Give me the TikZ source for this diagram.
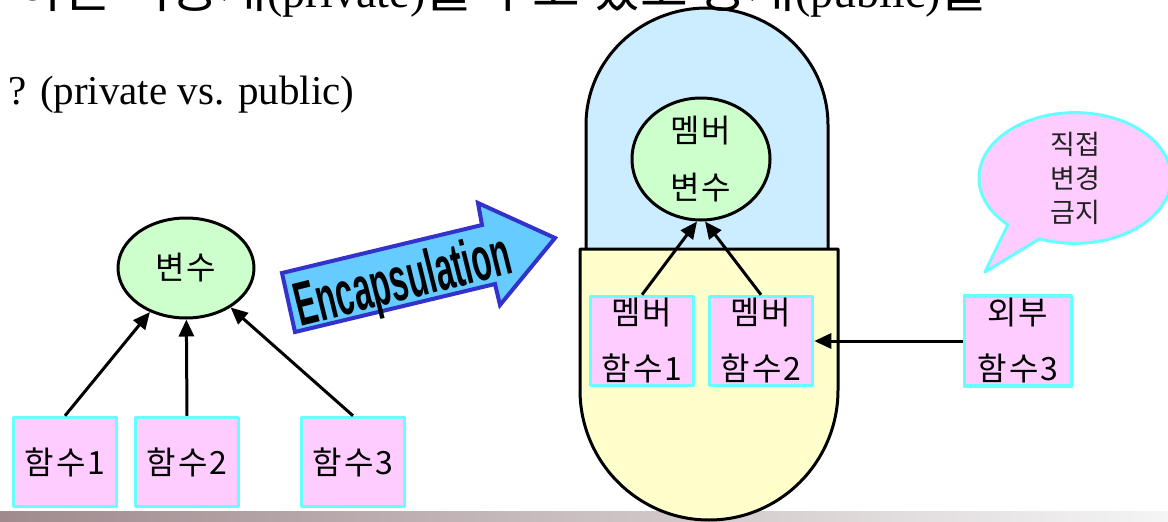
\documentclass[tikz,border=0pt]{standalone}
\usepackage{fontspec}
\setmainfont{Liberation Serif}
\newfontfamily\krfont{Noto Sans CJK KR}
\newfontfamily\krwide{Noto Sans CJK KR}[LetterSpace=6]
\newfontfamily\capfont{Liberation Sans}[FakeStretch=0.52]
\usetikzlibrary{arrows.meta,calc,positioning,shapes.geometric}
\definecolor{capPink}{HTML}{FFCCFF}
\definecolor{capCyan}{HTML}{66FFFF}
\definecolor{capGreen}{HTML}{CCFFCC}
\definecolor{capBlue}{HTML}{CCECFF}
\definecolor{capYellow}{HTML}{FFFFCC}
\definecolor{capSky}{HTML}{66CCFF}
\definecolor{capNavy}{HTML}{3333CC}
\definecolor{capMauve}{HTML}{A08A8E}
\definecolor{capFog}{HTML}{DCD4D5}
\definecolor{capInk}{HTML}{222222}

\begin{document}
\begin{tikzpicture}[x=1pt,y=-1pt,>=Latex,line cap=round,line join=round]
\path[use as bounding box,fill=white] (0,0) rectangle (1168,522); \clip (0,0) rectangle (1168,522);
\tikzset{fnbox/.style={draw=capCyan,fill=capPink,line width=3.5pt,minimum width=103pt,minimum height=89pt,inner sep=0pt,align=center,font=\krwide\fontsize{32}{56}\selectfont},varell/.style={ellipse,draw=black,fill=capGreen,line width=3pt,inner sep=0pt,align=center,font=\krwide\fontsize{32}{57}\selectfont},link/.style={draw=black,line width=3pt,line cap=butt,-{Triangle[length=17pt,width=15pt]}},hull/.style={draw=black,line width=3pt}}
\shade[left color=capMauve,middle color=capFog,right color=white!96!black] (0,511) rectangle (1168,522);
% before encapsulation
\node[varell,minimum width=136pt,minimum height=100pt] (var) at (186,268) {변수};
\node[fnbox] (f1) at (65,462) {함수1}; \node[fnbox] (f2) at (187,462) {함수2}; \node[fnbox] (f3) at (353,462) {함수3};
\draw[link] (f1.north) -- (var); \draw[link] (f2.north) -- (var); \draw[link] (f3.north) -- (var);
% big arrow
\draw[draw=capNavy,fill=capSky,line width=4pt,line join=miter] (282,273) -- (482,225) -- (478,203) -- (555,238) -- (500,305) -- (495,284) -- (295,332) -- cycle;
\node[rotate=14,font=\capfont\bfseries\fontsize{62}{62}\selectfont,inner sep=0pt] (enc) at (404,284) {Encapsulation};
% capsule
\path[fill=capBlue,hull] (586,249) -- (586,125) .. controls (586,59.8) and (640.2,8) .. (707,8) .. controls (773.8,8) and (828,59.8) .. (828,125) -- (828,249);
\path[fill=capYellow,hull] (580,249) -- (838,249) -- (838,390) .. controls (838,461.8) and (780.2,520) .. (709,520) .. controls (637.8,520) and (580,461.8) .. (580,390) -- cycle;
\node[varell,minimum width=138pt,minimum height=122pt] (mvar) at (701,159) {멤버\\변수};
\node[fnbox] (mf1) at (642,341) {멤버\\함수1}; \node[fnbox] (mf2) at (761,341) {멤버\\함수2};
\draw[link] (mf1.north) -- ([xshift=-4pt]mvar.south); \draw[link] (mf2.north) -- ([xshift=4pt]mvar.south);
\node[fnbox,minimum width=107pt,minimum height=90pt] (ext) at (1018,341) {외부\\함수3};
\draw[link] (ext) -- (mf2);
% speech bubble
\coordinate (tailA) at (1008,224.5); \coordinate (tailB) at (1040,238.5); \coordinate (tailT) at (985,272);
\node[ellipse,draw=capCyan,fill=capPink,line width=3pt,minimum width=192pt,minimum height=130pt,inner sep=0pt,align=center,font=\krfont\fontsize{27}{34}\selectfont,text=capInk] (warn) at (1075,178) {직접\\변경\\금지};
\fill[capPink] (tailT) -- ($(tailT)!1.25!(tailA)$) -- ($(tailT)!1.25!(tailB)$) -- cycle;
\draw[draw=capCyan,line width=3pt] (tailA) -- (tailT) -- (tailB);
% slide text
\node[anchor=base west,font=\fontsize{46}{50}\selectfont,inner sep=0pt] (head) at (16,7) {{\krfont\fontsize{52}{52}\selectfont 하는 비공개}(private){\krfont\fontsize{52}{52}\selectfont 를 두고 있고 공개}(public){\krfont\fontsize{52}{52}\selectfont 를}};
\node[anchor=base west,font=\fontsize{41}{46}\selectfont,inner sep=0pt] (sub) at (8,104) {? (private vs. public)};
\end{tikzpicture}
\end{document}
